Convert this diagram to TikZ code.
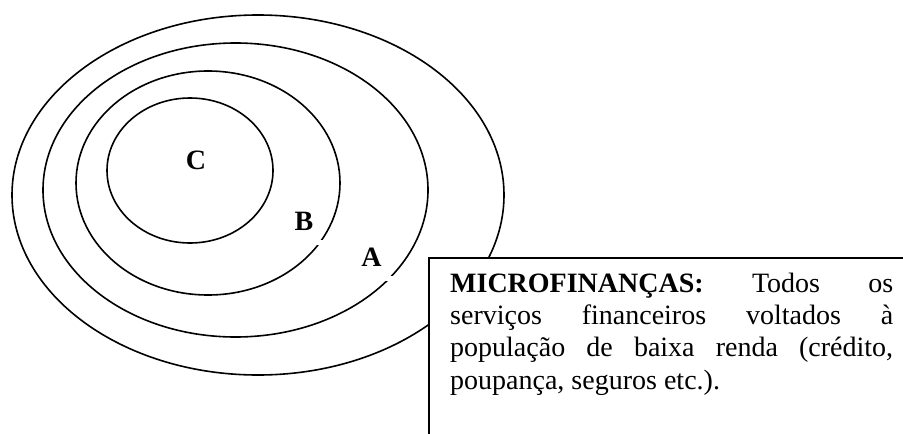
\documentclass[tikz,border=0pt]{standalone}
\usepackage{fontspec}
\setmainfont{Liberation Serif}
\usepackage{xcolor}
\usepackage{tikz}
\usetikzlibrary{calc}
\definecolor{ink}{HTML}{000000}
\definecolor{paper}{HTML}{FFFFFF}
\tikzset{
  ring/.style={line width=1.6pt, draw=ink},
  lab/.style={text=ink, font=\fontsize{28}{30}\selectfont\bfseries, inner sep=0pt},
  gap/.style={fill=paper},
  defbox/.style={draw=ink, fill=paper, line width=2pt, minimum width=520pt, minimum height=260pt, inner sep=0pt},
  deftext/.style={text=ink, font=\fontsize{28}{32.2}\selectfont, text width=443pt, align=justify, inner sep=0pt},
}

\begin{document}
\begin{tikzpicture}[x=1pt,y=-1pt]
  \useasboundingbox (0,0) rectangle (903,434);
  \coordinate (OA) at (258,195);     % outer ring
  \coordinate (OB) at (235.5,190);   % ring A
  \coordinate (OC) at (208,183);     % ring B
  \coordinate (OD) at (190,170.5);   % ring C

  \draw[ring] (OA) ellipse [x radius=246, y radius=180];
  \draw[ring] (OB) ellipse [x radius=192.5, y radius=147];
  \draw[ring] (OC) ellipse [x radius=132, y radius=112];
  \draw[ring] (OD) ellipse [x radius=83, y radius=72.5];

  \node[lab] (lblC) at (196,160) {C};
  \node[lab] (lblB) at (304,221.5) {B};
  \node[lab] (lblA) at (371.5,257.5) {A};

  % small breaks in the rings
  \fill[gap] ($(lblB)+(12,18)$) rectangle ($(lblB)+(22,23)$);
  \fill[gap] ($(lblA)+(13,18)$) rectangle ($(lblA)+(23,23)$);

  \node[defbox, anchor=north west] (box) at (428,257) {};
  \node[deftext, anchor=base west] (def) at (450,292.5) {%
    \textbf{MICROFINANÇAS:} Todos os\linebreak
    serviços financeiros voltados à\linebreak
    população de baixa renda (crédito,\linebreak
    poupança, seguros etc.).};
\end{tikzpicture}
\end{document}
